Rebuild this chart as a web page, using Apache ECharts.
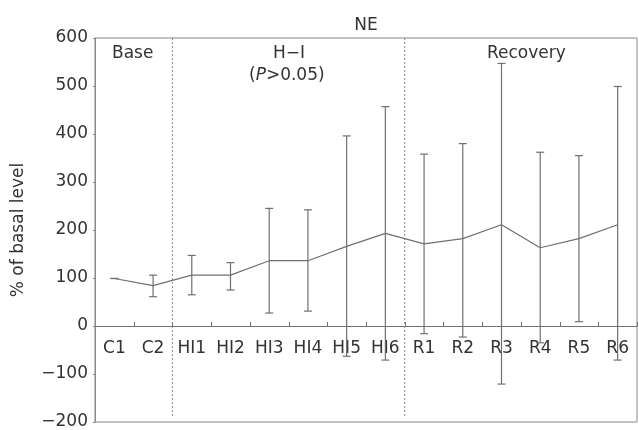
<!DOCTYPE html>
<html>
<head>
<meta charset="utf-8">
<script src="https://cdn.jsdelivr.net/npm/echarts@6/dist/echarts.min.js"></script>
<style>
  html, body { margin: 0; padding: 0; background: #fff; }
  #chart { width: 639px; height: 430px; }
</style>
</head>
<body>
<div id="chart"></div>
<script>
// categories and readings
const categories = ['C1', 'C2', 'HI1', 'HI2', 'HI3', 'HI4', 'HI5', 'HI6', 'R1', 'R2', 'R3', 'R4', 'R5', 'R6'];
const means = [99, 84, 106, 106, 136, 136, 166, 193, 171, 182, 211, 163, 182, 211];
const errLow = [99, 61, 65, 75, 27, 31, -63, -71, -16, -23, -121, -35, 9, -71];
const errHigh = [99, 106, 147, 132, 245, 242, 396, 457, 358, 380, 547, 362, 355, 499];
const dividers = [1.5, 7.5]; // between C2/HI1 and HI6/R1

const grey = '#707070';
const textColor = '#333';
const font = 'DejaVu Sans, sans-serif';
const fs = 17;

const chart = echarts.init(document.getElementById('chart'));

const errData = categories.map((c, i) => [i, errLow[i], errHigh[i]]);

chart.setOption({
  animation: false,
  textStyle: { fontFamily: font },
  title: {
    text: 'NE',
    left: 361, top: 12,
    textAlign: 'center',
    textStyle: { fontSize: fs, fontWeight: 'normal', color: textColor, fontFamily: font }
  },
  grid: {
    left: 95, right: 2, top: 38, bottom: 8,
    show: true, borderColor: '#888', borderWidth: 1,
    containLabel: false, outerBoundsMode: 'none'
  },
  xAxis: {
    type: 'category',
    data: categories,
    axisLine: { onZero: true, lineStyle: { color: grey } },
    axisTick: { show: false },
    axisLabel: { show: false },
    splitLine: { show: false }
  },
  yAxis: {
    type: 'value',
    min: -200, max: 600, interval: 100,
    name: '% of basal level',
    nameLocation: 'middle',
    nameRotate: 90,
    nameGap: 68,
    nameTextStyle: { color: textColor, fontSize: fs, fontFamily: font },
    axisLine: { show: true, lineStyle: { color: '#888' } },
    axisTick: { show: true, length: 2, lineStyle: { color: '#888' } },
    axisLabel: {
      color: textColor, fontSize: fs, margin: 7, fontFamily: font,
      formatter: v => String(v).replace('-', '\u2212')
    },
    splitLine: { show: false }
  },
  graphic: [
    { type: 'text', left: 112, top: 45, style: { text: 'Base', fontSize: fs, fill: textColor, fontFamily: font } },
    { type: 'text', left: 273, top: 45, style: { text: 'H\u2212I', fontSize: fs, fill: textColor, fontFamily: font } },
    {
      type: 'text', left: 249, top: 67,
      style: {
        text: '({i|P}>0.05)', fontSize: fs, fill: textColor, fontFamily: font,
        rich: { i: { fontStyle: 'italic', fontSize: fs, fill: textColor, fontFamily: font } }
      }
    },
    { type: 'text', left: 487, top: 45, style: { text: 'Recovery', fontSize: fs, fill: textColor, fontFamily: font } }
  ],
  series: [
    {
      type: 'custom',
      name: 'dividers',
      data: dividers.map(d => [d]),
      silent: true,
      renderItem: function (params, api) {
        const pos = api.value(0);
        const base = Math.floor(pos);
        const bw = api.size([1, 0])[0];
        const x = api.coord([base, 0])[0] + bw * (pos - base);
        const top = api.coord([base, 600])[1];
        const bot = api.coord([base, -190])[1];
        return {
          type: 'line',
          shape: { x1: x, y1: top, x2: x, y2: bot },
          style: { stroke: '#888', lineWidth: 1, lineDash: [2, 2] }
        };
      }
    },
    {
      // category labels under the zero line, with inward ticks at the band edges
      type: 'custom',
      name: 'labels',
      data: categories.map((c, i) => [i]),
      silent: true,
      renderItem: function (params, api) {
        const i = api.value(0);
        const p = api.coord([i, 0]);
        const bw = api.size([1, 0])[0];
        const tx = Math.round(p[0] + bw / 2) + 0.5;
        return {
          type: 'group',
          children: [
            {
              type: 'text',
              style: {
                text: categories[i], x: p[0], y: p[1] + 23,
                align: 'center', verticalAlign: 'middle',
                fontSize: fs, fontFamily: font, fill: textColor
              }
            },
            {
              type: 'line',
              shape: { x1: tx, y1: p[1], x2: tx, y2: p[1] - 4 },
              style: { stroke: grey, lineWidth: 1 }
            }
          ]
        };
      }
    },
    {
      type: 'custom',
      name: 'error',
      data: errData,
      silent: true,
      renderItem: function (params, api) {
        const i = api.value(0);
        const lo = api.coord([i, api.value(1)]);
        const hi = api.coord([i, api.value(2)]);
        const hw = 4;
        const st = { stroke: grey, lineWidth: 1.2 };
        return {
          type: 'group',
          children: [
            { type: 'line', shape: { x1: lo[0], y1: lo[1], x2: hi[0], y2: hi[1] }, style: st },
            { type: 'line', shape: { x1: lo[0] - hw, y1: lo[1], x2: lo[0] + hw, y2: lo[1] }, style: st },
            { type: 'line', shape: { x1: hi[0] - hw, y1: hi[1], x2: hi[0] + hw, y2: hi[1] }, style: st }
          ]
        };
      }
    },
    {
      type: 'line',
      name: 'NE',
      data: means,
      showSymbol: false,
      lineStyle: { color: grey, width: 1.2 },
      itemStyle: { color: grey }
    }
  ]
});
</script>
</body>
</html>
